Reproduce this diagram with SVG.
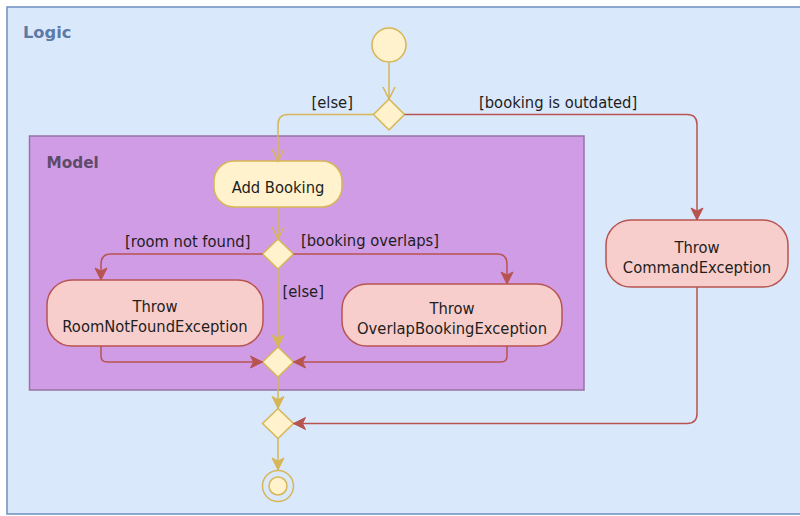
<svg xmlns="http://www.w3.org/2000/svg" width="800" height="516" viewBox="0 0 800 516">
<style>
.t{font-family:"DejaVu Sans Condensed","DejaVu Sans",sans-serif;font-stretch:condensed;font-size:16.4px;fill:#1e1e1e;}
.c{text-anchor:middle;}
.y{fill:#fff2cc;stroke:#d6b656;stroke-width:1.5;}
.r{fill:#f8cecc;stroke:#b85450;stroke-width:1.5;}
.ey{fill:none;stroke:#d6b656;stroke-width:1.5;}
.er{fill:none;stroke:#b85450;stroke-width:1.5;}
</style>
<defs>
<marker id="ay" markerUnits="userSpaceOnUse" markerWidth="14" markerHeight="14" refX="12" refY="6" orient="auto" overflow="visible">
<path d="M0,0 L12,6 L0,12 L3,6 z" fill="#d6b656" stroke="#d6b656" stroke-width="1"/>
</marker>
<marker id="ar" markerUnits="userSpaceOnUse" markerWidth="14" markerHeight="14" refX="12" refY="6" orient="auto" overflow="visible">
<path d="M0,0 L12,6 L0,12 L3,6 z" fill="#b85450" stroke="#b85450" stroke-width="1"/>
</marker>
<marker id="oy" markerUnits="userSpaceOnUse" markerWidth="14" markerHeight="14" refX="12" refY="6" orient="auto" overflow="visible">
<path d="M0,0 L12,6 L0,12" fill="none" stroke="#d6b656" stroke-width="1.5"/>
</marker>
</defs>
<rect x="0" y="0" width="800" height="516" fill="#ffffff"/>
<g id="logic">
<rect x="7" y="7" width="800" height="507" fill="#dae8fc" stroke="#6c8ebf" stroke-width="1.5"/>
<text x="23" y="38" style="font-family:'DejaVu Sans',sans-serif;font-size:16.3px;font-weight:bold;fill:#5d7aa6">Logic</text>
</g>
<g id="model">
<rect x="29.5" y="136" width="554.5" height="254" fill="#d19ce6" stroke="#9673a6" stroke-width="1.5"/>
<text x="46.5" y="167.5" style="font-family:'DejaVu Sans',sans-serif;font-size:15.3px;font-weight:bold;fill:#5e4a6a">Model</text>
</g>
<g id="start"><circle cx="389" cy="45" r="17" class="y"/></g>
<g id="decision1"><path d="M389,99 L404.5,114.5 L389,130 L373.5,114.5 Z" class="y"/></g>
<g id="addBooking">
<rect x="214" y="161" width="128" height="46" rx="20" class="y"/>
<text x="278" y="193" class="t c">Add Booking</text>
</g>
<g id="decision2"><path d="M278,239 L293.5,254 L278,269 L262.5,254 Z" class="y"/></g>
<g id="roomNotFound">
<rect x="47" y="280" width="216" height="66" rx="25" class="r"/>
<text x="155" y="311.5" class="t c">Throw</text>
<text x="155" y="331.5" class="t c">RoomNotFoundException</text>
</g>
<g id="overlapBooking">
<rect x="342" y="284" width="220" height="62" rx="25" class="r"/>
<text x="452" y="314" class="t c">Throw</text>
<text x="452" y="334" class="t c">OverlapBookingException</text>
</g>
<g id="commandException">
<rect x="606" y="220" width="182" height="67" rx="25" class="r"/>
<text x="697" y="253" class="t c">Throw</text>
<text x="697" y="273" class="t c">CommandException</text>
</g>
<g id="merge1"><path d="M278,347 L293.5,362 L278,377 L262.5,362 Z" class="y"/></g>
<g id="merge2"><path d="M278,408.5 L293.5,423.5 L278,438.5 L262.5,423.5 Z" class="y"/></g>
<g id="end">
<circle cx="278" cy="486" r="15.5" fill="none" stroke="#d6b656" stroke-width="1.5"/>
<circle cx="278" cy="486" r="9" class="y"/>
</g>
<g id="connectors">
<path d="M389,62 V99" class="ey" marker-end="url(#oy)"/>
<path d="M373.5,114.5 H288 Q278,114.5 278,124.5 V161" class="ey" marker-end="url(#oy)"/>
<path d="M404.5,114.5 H687 Q697,114.5 697,124.5 V220" class="er" marker-end="url(#ar)"/>
<path d="M278,207 V239" class="ey" marker-end="url(#oy)"/>
<path d="M262.5,254 H111 Q101,254 101,264 V280" class="er" marker-end="url(#ar)"/>
<path d="M293.5,254 H497 Q507,254 507,264 V284" class="er" marker-end="url(#ar)"/>
<path d="M278,269 V347" class="ey" marker-end="url(#ay)"/>
<path d="M101,346 V356 Q101,362 107,362 H262.5" class="er" marker-end="url(#ar)"/>
<path d="M507,346 V356 Q507,362 501,362 H293.5" class="er" marker-end="url(#ar)"/>
<path d="M278,377 V408.5" class="ey" marker-end="url(#ay)"/>
<path d="M697,287 V413.5 Q697,423.5 687,423.5 H293.5" class="er" marker-end="url(#ar)"/>
<path d="M278,438.5 V470" class="ey" marker-end="url(#ay)"/>
<text x="311.5" y="107.5" class="t">[else]</text>
<text x="479" y="107.5" class="t">[booking is outdated]</text>
<text x="125" y="247" class="t">[room not found]</text>
<text x="301" y="246" class="t">[booking overlaps]</text>
<text x="282.5" y="296.5" class="t">[else]</text>
</g>
</svg>
